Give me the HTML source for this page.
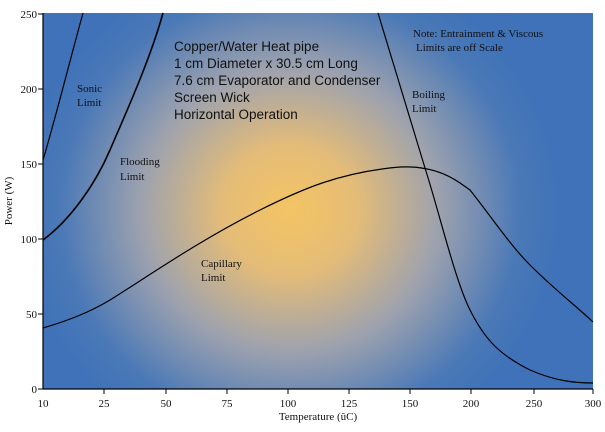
<!DOCTYPE html>
<html><head><style>
body{margin:0;background:#fff;width:605px;height:427px;overflow:hidden}
svg text{font-family:"Liberation Serif",serif;fill:#111}
</style></head><body>
<svg width="605" height="427" xmlns="http://www.w3.org/2000/svg">
<defs>
<radialGradient id="g" cx="290" cy="210" r="270" gradientUnits="userSpaceOnUse" gradientTransform="translate(290 210) scale(1 0.95) translate(-290 -210)">
<stop offset="0" stop-color="#f4c463"/>
<stop offset="0.25" stop-color="#e4bc78"/>
<stop offset="0.55" stop-color="#9ea2ae"/>
<stop offset="0.85" stop-color="#4b79b7"/>
<stop offset="1" stop-color="#3f72b8"/>
</radialGradient>
</defs>
<rect x="43" y="13" width="550" height="376" fill="url(#g)"/>
<g stroke="#000" stroke-width="1.2" fill="none">
<line x1="43" y1="13" x2="43" y2="389"/>
<line x1="43" y1="389" x2="593" y2="389"/>
<path d="M43,160 C55,120 70,60 83,13"/>
<path d="M43,240 C70,220 95,185 110,150 C125,115 150,60 163,13" stroke-width="1.6"/>
<path d="M43,328 C70,320 90,312 110,300 C150,275 200,240 260,210 C300,190 340,172 400,167 C440,165 460,183 470,190 C490,215 510,245 530,265 C555,290 575,305 593,322"/>
<path d="M378,13 L425,168 C440,215 455,280 470,310 C485,340 500,355 530,370 C555,381 575,383 593,383"/>
<g stroke-width="1">
<line x1="38" y1="14" x2="43" y2="14"/><line x1="38" y1="89" x2="43" y2="89"/>
<line x1="38" y1="164" x2="43" y2="164"/><line x1="38" y1="239" x2="43" y2="239"/>
<line x1="38" y1="314" x2="43" y2="314"/><line x1="38" y1="389" x2="43" y2="389"/>
<line x1="104" y1="389" x2="104" y2="394"/><line x1="166" y1="389" x2="166" y2="394"/>
<line x1="227" y1="389" x2="227" y2="394"/><line x1="288" y1="389" x2="288" y2="394"/>
<line x1="349" y1="389" x2="349" y2="394"/><line x1="410" y1="389" x2="410" y2="394"/>
<line x1="471" y1="389" x2="471" y2="394"/><line x1="534" y1="389" x2="534" y2="394"/>
<line x1="593" y1="389" x2="593" y2="394"/>
</g>
</g>
<g font-size="11" text-anchor="end">
<text x="37" y="18">250</text><text x="37" y="93">200</text><text x="37" y="168">150</text>
<text x="37" y="243">100</text><text x="37" y="318">50</text><text x="37" y="393">0</text>
</g>
<g font-size="11" text-anchor="middle">
<text x="43" y="407">10</text><text x="104" y="407">25</text><text x="166" y="407">50</text>
<text x="227" y="407">75</text><text x="288" y="407">100</text><text x="349" y="407">125</text>
<text x="410" y="407">150</text><text x="471" y="407">200</text><text x="534" y="407">250</text>
<text x="593" y="407">300</text>
<text x="318" y="420">Temperature (ûC)</text>
<text transform="translate(12 201) rotate(-90)">Power (W)</text>
</g>
<g font-size="11" fill="#111">
<text x="77" y="92">Sonic</text><text x="77" y="106">Limit</text>
<text x="120" y="165">Flooding</text><text x="120" y="180">Limit</text>
<text x="201" y="267">Capillary</text><text x="201" y="281">Limit</text>
<text x="412" y="98">Boiling</text><text x="412" y="112">Limit</text>
<text x="413" y="37">Note: Entrainment &amp; Viscous</text>
<text x="416" y="51">Limits are off Scale</text>
</g>
<g font-size="13.5">
<text x="174" y="51" style="font-family:'Liberation Sans',sans-serif">Copper/Water Heat pipe</text>
<text x="174" y="68" style="font-family:'Liberation Sans',sans-serif">1 cm Diameter x 30.5 cm Long</text>
<text x="174" y="85" style="font-family:'Liberation Sans',sans-serif">7.6 cm Evaporator and Condenser</text>
<text x="174" y="102" style="font-family:'Liberation Sans',sans-serif">Screen Wick</text>
<text x="174" y="119" style="font-family:'Liberation Sans',sans-serif">Horizontal Operation</text>
</g>
</svg>
</body></html>
